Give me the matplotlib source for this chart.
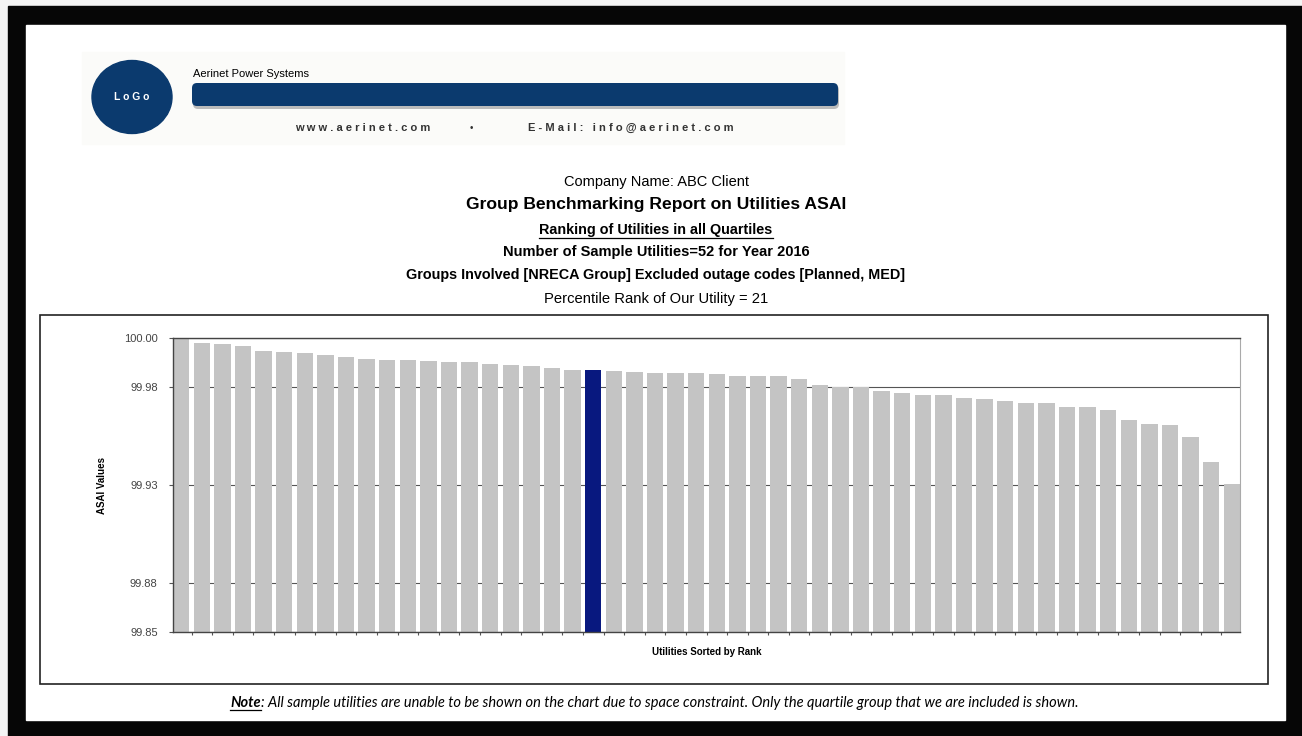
import numpy as np
import matplotlib
matplotlib.use("Agg")
import matplotlib.pyplot as plt
from matplotlib.patches import Rectangle, Ellipse, FancyBboxPatch

plt.rcParams['font.family'] = ['Liberation Sans', 'DejaVu Sans']

# ASAI values of the utilities, sorted by rank
asai = [100.0000, 99.9976, 99.9969, 99.9958, 99.9934, 99.9930, 99.9922, 99.9915,
        99.9901, 99.9893, 99.9888, 99.9886, 99.9883, 99.9876, 99.9876, 99.9868,
        99.9862, 99.9856, 99.9845, 99.9839, 99.9835, 99.9830, 99.9825, 99.9822,
        99.9822, 99.9820, 99.9817, 99.9808, 99.9806, 99.9805, 99.9791, 99.9760,
        99.9752, 99.9752, 99.9728, 99.9721, 99.9711, 99.9710, 99.9693, 99.9689,
        99.9677, 99.9670, 99.9669, 99.9650, 99.9648, 99.9631, 99.9582, 99.9562,
        99.9558, 99.9497, 99.9366, 99.9253]
our_rank = 21
y_ticks = [99.85, 99.875, 99.925, 99.975, 100.0]
y_tick_labels = ["99.85", "99.88", "99.93", "99.98", "100.00"]

company = "ABC Client"
n_sample = 52
year = 2016
percentile = 21

W, H = 1302, 736
fig = plt.figure(figsize=(W / 100, H / 100), dpi=100)
fig.patch.set_facecolor('#f4f4f4')

# page layer in pixel coordinates
bg = fig.add_axes([0, 0, 1, 1])
bg.set_xlim(0, W)
bg.set_ylim(H, 0)
bg.axis('off')
bg.add_patch(Rectangle((8, 6), W - 8, H - 6, color='#060606'))
bg.add_patch(Rectangle((26, 25), 1285 - 26, 720 - 25, color='white'))
bg.add_patch(Rectangle((40, 315), 1268 - 40, 684 - 315, fill=False, ec='#222222', lw=1.2))

# header
navy = '#0b3a6e'
bg.add_patch(Rectangle((82, 52), 762, 92, color='#fbfbf9', zorder=1))
bg.add_patch(Ellipse((132, 97), 80, 73, color=navy, zorder=2))
bg.text(132, 97, "L o G o", color='white', fontsize=7.5, fontweight='bold',
        ha='center', va='center', zorder=3)
bg.add_patch(FancyBboxPatch((196, 88), 640, 18, boxstyle="round,pad=3,rounding_size=5",
                            fc='#bbbbbb', ec='none', zorder=2))
bg.add_patch(FancyBboxPatch((195, 86), 640, 17, boxstyle="round,pad=3,rounding_size=5",
                            fc=navy, ec='none', zorder=3))
bg.text(193, 74, "Aerinet Power Systems", fontsize=8, ha='left', va='center', zorder=3)
bg.text(363, 128, " ".join("www.aerinet.com"), fontsize=8, fontweight='bold',
        color='#333333', ha='center', va='center', zorder=3)
bg.text(471, 128, "•", fontsize=7, color='#333333', ha='center', va='center', zorder=3)
bg.text(631, 128, " ".join("E-Mail:") + "   " + " ".join("info@aerinet.com"), fontsize=8,
        fontweight='bold', color='#333333', ha='center', va='center', zorder=3)

# titles
cx = 656
bg.text(cx, 182, f"Company Name: {company}", fontsize=10.5, ha='center', va='center')
bg.text(cx, 205, "Group Benchmarking Report on Utilities ASAI", fontsize=12.6,
        fontweight='bold', ha='center', va='center')
t_rank = bg.text(cx, 230, "Ranking of Utilities in all Quartiles", fontsize=10.4,
                 fontweight='bold', ha='center', va='center')
bg.text(cx, 252, f"Number of Sample Utilities={n_sample} for Year {year}", fontsize=10.5,
        fontweight='bold', ha='center', va='center')
bg.text(cx, 275, "Groups Involved [NRECA Group] Excluded outage codes [Planned, MED]",
        fontsize=10.4, fontweight='bold', ha='center', va='center')
bg.text(cx, 299, f"Percentile Rank of Our Utility = {percentile}", fontsize=10.6,
        ha='center', va='center')

renderer = fig.canvas.get_renderer()


def underline(t, dy=2):
    bb = t.get_window_extent(renderer)
    y = H - bb.y0 + dy - 1
    bg.plot([bb.x0, bb.x1], [y, y], color='black', lw=0.9)


underline(t_rank)

# footnote
note_font = ['Lato', 'DejaVu Sans']
t_note = bg.text(230, 703, "Note", fontsize=10.55, fontstyle='italic', fontweight='bold',
                 family=note_font, ha='left', va='center')
nb = t_note.get_window_extent(renderer)
bg.text(nb.x1, 703, ": All sample utilities are unable to be shown on the chart due to space "
        "constraint. Only the quartile group that we are included is shown.",
        fontsize=10.55, fontstyle='italic', family=note_font, ha='left', va='center')
underline(t_note, dy=1)

# chart
x0, x1, y0, y1 = 173, 1240, 338, 632
ax = fig.add_axes([x0 / W, 1 - y1 / H, (x1 - x0) / W, (y1 - y0) / H])
n = len(asai)
idx = np.arange(n)
colors = ['#c4c4c4'] * n
colors[our_rank - 1] = '#08187f'
base = y_ticks[0]
ax.bar(idx, np.array(asai) - base, bottom=base, width=0.8, color=colors, zorder=2)
ax.set_xlim(-0.4, n - 0.6)
ax.set_ylim(y_ticks[0], y_ticks[-1])
ax.set_yticks(y_ticks)
ax.set_yticklabels(y_tick_labels, fontsize=8, color='#444444')
ax.set_xticks(idx[:-1] + 0.5)
ax.set_xticklabels([])
ax.tick_params(axis='x', length=2.5, color='#555555', direction='out')
ax.tick_params(axis='y', length=3, color='#555555', direction='out', pad=8)
ax.grid(axis='y', color='#555555', lw=0.8, zorder=1)
for s in ['top', 'left', 'bottom']:
    ax.spines[s].set_color('#444444')
    ax.spines[s].set_linewidth(1.0)
ax.spines['right'].set_color('#aaaaaa')
ax.set_xlabel("Utilities Sorted by Rank", fontsize=7, fontweight='bold', labelpad=5)
ax.set_ylabel("ASAI Values", fontsize=7, fontweight='bold', labelpad=12)

fig.savefig("out.png", dpi=100, facecolor=fig.get_facecolor())
